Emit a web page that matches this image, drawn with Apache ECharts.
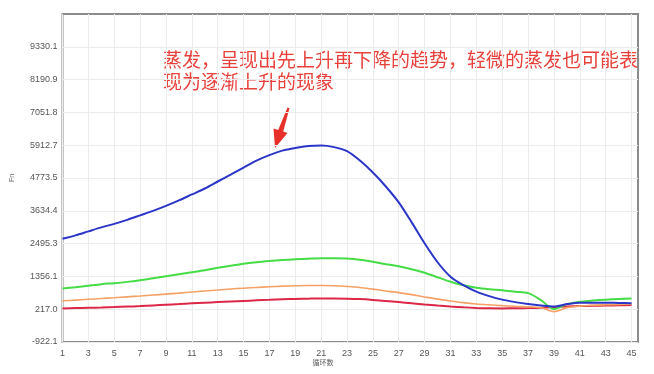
<!DOCTYPE html>
<html>
<head>
<meta charset="utf-8">
<script src="https://cdn.jsdelivr.net/npm/echarts@6/dist/echarts.min.js"></script>
<style>html,body{margin:0;padding:0;background:#fff;}#c{width:654px;height:374px;}</style>
</head>
<body>
<div id="c"></div>
<script>
const cycles = Array.from({length: 45}, (_, i) => i + 1);
const xTicks = [1,3,5,7,9,11,13,15,17,19,21,23,25,27,29,31,33,35,37,39,41,43,45];
const yTicks = [-922.1, 217.0, 1356.1, 2495.3, 3634.4, 4773.5, 5912.7, 7051.8, 8190.9, 9330.1];
const yMax = 10469.2;

const blue = [2661,2782,2921,3059,3180,3319,3475,3631,3803,3994,4202,4409,4652,4894,5137,5379,5569,5725,5818,5881,5898,5846,5708,5379,4963,4479,3925,3232,2505,1848,1346,1051,826,671,549,463,394,342,307,394,445,445,445,435,428];
const green = [937,982,1034,1086,1121,1166,1224,1294,1363,1432,1501,1571,1657,1726,1796,1848,1889,1924,1951,1972,1986,1986,1976,1934,1865,1778,1709,1605,1484,1328,1173,1051,965,913,878,826,774,532,220,394,480,515,549,574,591];
const orange = [508,532,560,587,615,646,677,709,740,774,816,851,885,920,947,972,996,1017,1031,1041,1041,1031,1006,972,913,851,792,722,643,567,504,445,400,369,342,317,297,272,134,272,324,352,369,383,394];
const red = [245,255,265,276,290,307,324,349,373,394,421,442,463,484,504,525,542,560,574,584,591,591,584,567,539,504,463,421,380,342,310,283,262,248,245,248,255,269,290,310,324,335,345,352,359];

const annotation = ['蒸发，呈现出先上升再下降的趋势，轻微的蒸发也可能表', '现为逐渐上升的现象'];
const xName = '循环数';
const yName = 'Fn';

function pairs(arr) { return arr.map((v, i) => [cycles[i], v]); }

const chart = echarts.init(document.getElementById('c'), null, {renderer: 'canvas'});
const lineSeries = (data, color, width) => ({
  type: 'line', data: pairs(data), showSymbol: false, smooth: 0.3,
  lineStyle: {color: color, width: width}, itemStyle: {color: color}, z: 3
});
chart.setOption({
  animation: false,
  backgroundColor: '#fff',
  grid: {left: 62.5, right: 16, top: 14, bottom: 32, show: true, borderColor: '#8c8c8c', borderWidth: 2, backgroundColor: 'transparent'},
  xAxis: {
    type: 'value', min: 1, max: 45.5,
    axisLine: {show: false},
    axisTick: {show: false, customValues: xTicks},
    axisLabel: {customValues: xTicks, color: '#555', fontSize: 9, margin: 7, fontFamily: 'Liberation Sans'},
    splitLine: {show: true, lineStyle: {color: '#ececec', width: 1}}
  },
  yAxis: {
    type: 'value', min: yTicks[0], max: yMax,
    name: yName, nameLocation: 'middle', nameGap: 47, nameRotate: 90,
    nameTextStyle: {color: '#666', fontSize: 7, fontFamily: 'Liberation Sans'},
    axisLine: {show: false},
    axisTick: {show: false, customValues: yTicks},
    axisLabel: {customValues: yTicks, color: '#555', fontSize: 9, margin: 5, fontFamily: 'Liberation Sans',
      formatter: v => Number(v).toFixed(1)},
    splitLine: {show: true, lineStyle: {color: '#ececec', width: 1}}
  },
  series: [
    lineSeries(red, '#dc2846', 2),
    lineSeries(orange, '#f5a064', 1.6),
    lineSeries(green, '#46dc46', 2),
    lineSeries(blue, '#2b36c8', 2)
  ],
  graphic: [
    {type: 'text', left: 163, top: 50, style: {text: annotation[0], fill: '#e8403a', fontSize: 19, fontFamily: 'Noto Sans CJK SC'}},
    {type: 'text', left: 163, top: 72, style: {text: annotation[1], fill: '#e8403a', fontSize: 19, fontFamily: 'Noto Sans CJK SC'}},
    {type: 'text', x: 323, y: 362, style: {text: xName, fill: '#555', fontSize: 7, align: 'center', verticalAlign: 'middle', fontFamily: 'Noto Sans CJK SC'}},
    {type: 'polygon', shape: {points: [[287.5,107.5],[289.5,108.2],[283.2,131.5],[287.5,133],[275,148],[273.5,128.5],[278.2,130.1]]}, style: {fill: '#e8302a'}}
  ]
});
</script>
</body>
</html>
